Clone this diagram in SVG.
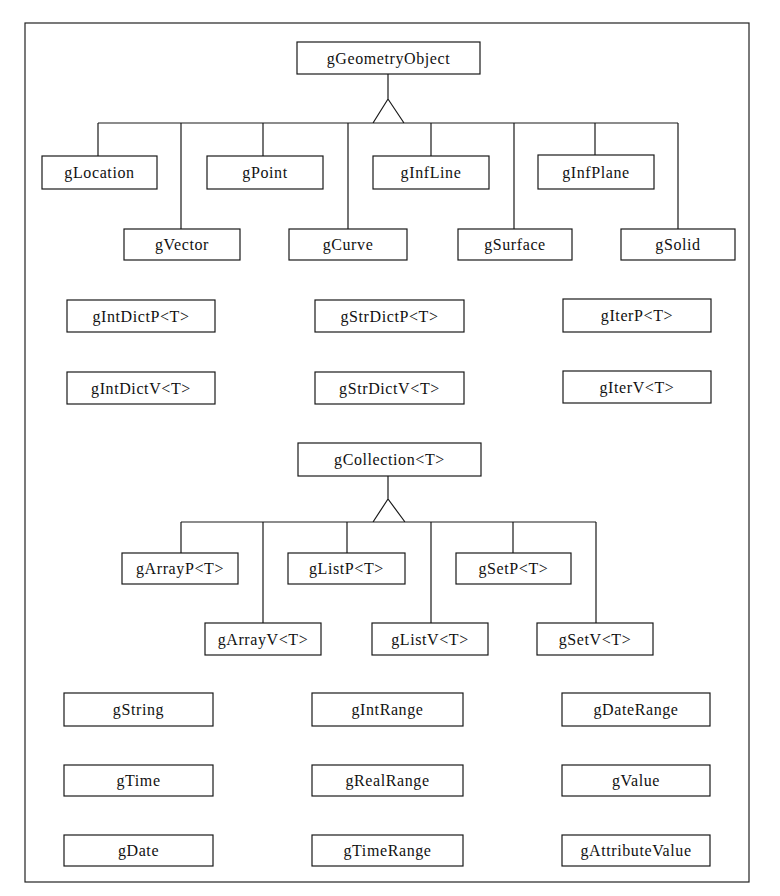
<svg xmlns="http://www.w3.org/2000/svg" width="780" height="896" viewBox="0 0 780 896">
<style>
.frame{fill:#fff;stroke:#222;stroke-width:1.2}
.n rect{fill:#fff;stroke:#1a1a1a;stroke-width:1.2}
.n text{font-family:"Liberation Serif","DejaVu Serif",serif;font-size:16px;fill:#111;text-anchor:middle;letter-spacing:0.6px}
.c path{fill:none;stroke:#1a1a1a;stroke-width:1.2}
</style>
<rect width="780" height="896" fill="#fff"/>
<rect class="frame" x="25" y="23" width="724" height="859"/>
<g class="c" id="connectors">
<path d="M388 74V99M373 123L388 99L404 123M98 123H678"/>
<path d="M98 123V156M263 123V156M431 123V156M595 123V155"/>
<path d="M181 123V229M348 123V229M514 123V229M678 123V229"/>
<path d="M388 476V499M373 522L388 499L405 522M181 522H596"/>
<path d="M181 522V553M347 522V553M513 522V553"/>
<path d="M263 522V623M431 522V623M596 522V623"/>
</g>
<g class="n" id="gGeometryObject"><rect x="297" y="42" width="183" height="32"/><text x="388.5" y="63.5">gGeometryObject</text></g>
<g class="n" id="gLocation"><rect x="42" y="156" width="115" height="33"/><text x="99.5" y="178">gLocation</text></g>
<g class="n" id="gPoint"><rect x="207" y="156" width="116" height="33"/><text x="265" y="178">gPoint</text></g>
<g class="n" id="gInfLine"><rect x="373" y="156" width="116" height="33"/><text x="431" y="178">gInfLine</text></g>
<g class="n" id="gInfPlane"><rect x="538" y="155" width="116" height="34"/><text x="596" y="178">gInfPlane</text></g>
<g class="n" id="gVector"><rect x="124" y="229" width="116" height="31"/><text x="182" y="250">gVector</text></g>
<g class="n" id="gCurve"><rect x="289" y="229" width="118" height="31"/><text x="348" y="250">gCurve</text></g>
<g class="n" id="gSurface"><rect x="458" y="229" width="114" height="31"/><text x="515" y="250">gSurface</text></g>
<g class="n" id="gSolid"><rect x="621" y="229" width="114" height="31"/><text x="678" y="250">gSolid</text></g>
<g class="n" id="gIntDictP"><rect x="67" y="300" width="148" height="32"/><text x="141" y="321.5">gIntDictP&lt;T&gt;</text></g>
<g class="n" id="gIntDictV"><rect x="67" y="372" width="148" height="32"/><text x="141" y="393.5">gIntDictV&lt;T&gt;</text></g>
<g class="n" id="gStrDictP"><rect x="315" y="300" width="149" height="32"/><text x="389.5" y="321.5">gStrDictP&lt;T&gt;</text></g>
<g class="n" id="gStrDictV"><rect x="315" y="372" width="149" height="32"/><text x="389.5" y="393.5">gStrDictV&lt;T&gt;</text></g>
<g class="n" id="gIterP"><rect x="563" y="299" width="148" height="33"/><text x="637" y="321">gIterP&lt;T&gt;</text></g>
<g class="n" id="gIterV"><rect x="563" y="371" width="148" height="32"/><text x="637" y="392.5">gIterV&lt;T&gt;</text></g>
<g class="n" id="gCollection"><rect x="298" y="443" width="183" height="33"/><text x="389.5" y="465">gCollection&lt;T&gt;</text></g>
<g class="n" id="gArrayP"><rect x="122" y="553" width="116" height="31"/><text x="180" y="574">gArrayP&lt;T&gt;</text></g>
<g class="n" id="gListP"><rect x="288" y="553" width="117" height="31"/><text x="346.5" y="574">gListP&lt;T&gt;</text></g>
<g class="n" id="gSetP"><rect x="456" y="553" width="115" height="31"/><text x="513.5" y="574">gSetP&lt;T&gt;</text></g>
<g class="n" id="gArrayV"><rect x="205" y="623" width="116" height="32"/><text x="263" y="644.5">gArrayV&lt;T&gt;</text></g>
<g class="n" id="gListV"><rect x="372" y="623" width="116" height="32"/><text x="430" y="644.5">gListV&lt;T&gt;</text></g>
<g class="n" id="gSetV"><rect x="537" y="623" width="116" height="32"/><text x="595" y="644.5">gSetV&lt;T&gt;</text></g>
<g class="n" id="gString"><rect x="64" y="693" width="149" height="33"/><text x="138.5" y="715">gString</text></g>
<g class="n" id="gTime"><rect x="64" y="765" width="149" height="31"/><text x="138.5" y="786">gTime</text></g>
<g class="n" id="gDate"><rect x="64" y="835" width="149" height="31"/><text x="138.5" y="856">gDate</text></g>
<g class="n" id="gIntRange"><rect x="312" y="693" width="151" height="33"/><text x="387.5" y="715">gIntRange</text></g>
<g class="n" id="gRealRange"><rect x="312" y="765" width="151" height="31"/><text x="387.5" y="786">gRealRange</text></g>
<g class="n" id="gTimeRange"><rect x="312" y="835" width="151" height="31"/><text x="387.5" y="856">gTimeRange</text></g>
<g class="n" id="gDateRange"><rect x="562" y="693" width="148" height="33"/><text x="636" y="715">gDateRange</text></g>
<g class="n" id="gValue"><rect x="562" y="765" width="148" height="31"/><text x="636" y="786">gValue</text></g>
<g class="n" id="gAttributeValue"><rect x="562" y="835" width="148" height="31"/><text x="636" y="856">gAttributeValue</text></g>
</svg>
